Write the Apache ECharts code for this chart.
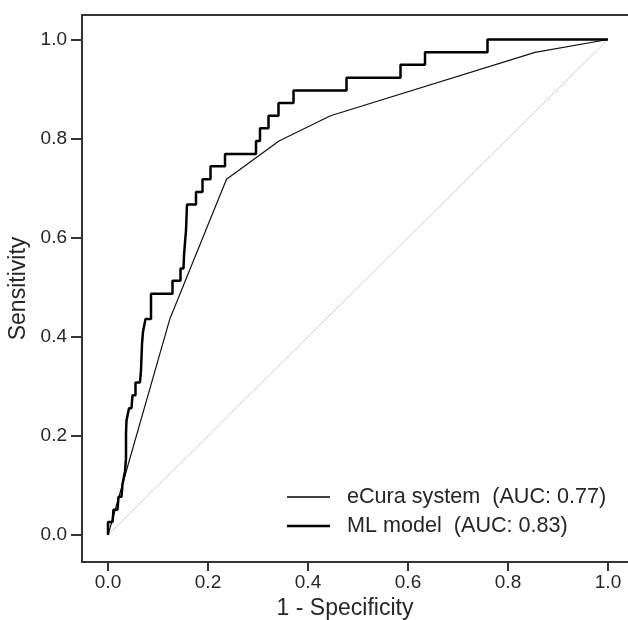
<!DOCTYPE html>
<html>
<head>
<meta charset="utf-8">
<script src="https://cdn.jsdelivr.net/npm/echarts@6/dist/echarts.min.js"></script>
<style>html,body{margin:0;padding:0;background:#fff}#c{width:628px;height:620px}</style>
</head>
<body>
<div id="c"></div>
<script>
// Tick labels
const xTicks = [0, 0.2, 0.4, 0.6, 0.8, 1.0];
const yTicks = [0, 0.2, 0.4, 0.6, 0.8, 1.0];

// Reference diagonal
const diagonal = [[0, 0], [1, 1]];

// eCura system ROC points [1 - specificity, sensitivity]
const eCuraFpr = [0, 0.124, 0.237, 0.342, 0.445, 0.854, 1.0];
const eCuraTpr = [0, 0.437, 0.718, 0.795, 0.846, 0.974, 1.0];

// ML model ROC (step) points [1 - specificity, sensitivity]
const mlFpr = [0, 0, 0.009, 0.011, 0.019, 0.021, 0.027, 0.029, 0.033, 0.034, 0.036, 0.036, 0.036, 0.036, 0.037,
  0.041, 0.042, 0.047, 0.049, 0.055, 0.055, 0.064, 0.066, 0.067, 0.068, 0.070, 0.075, 0.086, 0.086, 0.086,
  0.129, 0.129, 0.145, 0.145, 0.151, 0.152, 0.154, 0.156, 0.157, 0.158, 0.176, 0.176, 0.189, 0.189, 0.205,
  0.205, 0.234, 0.234, 0.296, 0.296, 0.304, 0.304, 0.321, 0.321, 0.341, 0.341, 0.371, 0.371, 0.477, 0.477,
  0.585, 0.585, 0.634, 0.634, 0.759, 0.759, 1.0];
const mlTpr = [0, 0.026, 0.026, 0.051, 0.051, 0.077, 0.077, 0.103, 0.103, 0.128, 0.128, 0.154, 0.179, 0.205, 0.231,
  0.231, 0.256, 0.256, 0.282, 0.282, 0.308, 0.308, 0.333, 0.359, 0.385, 0.410, 0.436, 0.436, 0.462, 0.487,
  0.487, 0.513, 0.513, 0.538, 0.538, 0.564, 0.590, 0.615, 0.641, 0.667, 0.667, 0.692, 0.692, 0.718, 0.718,
  0.744, 0.744, 0.769, 0.769, 0.795, 0.795, 0.821, 0.821, 0.846, 0.846, 0.872, 0.872, 0.897, 0.897, 0.923,
  0.923, 0.949, 0.949, 0.974, 0.974, 1.0, 1.0];

const seriesNames = ['eCura system  (AUC: 0.77)', 'ML model  (AUC: 0.83)'];

const zip = (a, b) => a.map((v, i) => [v, b[i]]);
const FONT = 'Liberation Sans, Arial, sans-serif';
const TXT = '#262626';
const AX = '#333';

const chart = echarts.init(document.getElementById('c'), null, {renderer: 'canvas'});
chart.setOption({
  animation: false,
  backgroundColor: '#fff',
  grid: {left: 82, right: 0, top: 15, bottom: 58, containLabel: false, outerBoundsMode: 'none'},
  xAxis: [{
    type: 'value', min: -0.052, max: 1.04,
    name: '1 - Specificity', nameLocation: 'middle', nameGap: 31,
    nameTextStyle: {fontFamily: FONT, fontSize: 23, color: TXT, padding: [0, 20, 0, 0]},
    axisLine: {show: true, onZero: false, lineStyle: {color: AX, width: 2}},
    axisTick: {show: true, length: 9, customValues: xTicks, lineStyle: {color: AX, width: 2}},
    axisLabel: {customValues: xTicks, formatter: v => v.toFixed(1), fontFamily: FONT, fontSize: 19, color: TXT, margin: 11},
    splitLine: {show: false}
  }, {
    type: 'value', position: 'top', min: -0.052, max: 1.04,
    axisLine: {show: true, onZero: false, lineStyle: {color: AX, width: 2}},
    axisTick: {show: false}, axisLabel: {show: false}, splitLine: {show: false}
  }],
  yAxis: {
    type: 'value', min: -0.0545, max: 1.0494,
    name: 'Sensitivity', nameLocation: 'middle', nameGap: 45,
    nameTextStyle: {fontFamily: FONT, fontSize: 23, color: TXT},
    axisLine: {show: true, onZero: false, lineStyle: {color: AX, width: 2}},
    axisTick: {show: true, length: 11, customValues: yTicks, lineStyle: {color: AX, width: 2}},
    axisLabel: {customValues: yTicks, formatter: v => v.toFixed(1), fontFamily: FONT, fontSize: 19, color: TXT, margin: 15},
    splitLine: {show: false}
  },
  legend: {
    orient: 'vertical', left: 287, top: 486, padding: 0,
    itemWidth: 43, itemHeight: 14, itemGap: 7,
    data: [
      {name: seriesNames[0], icon: 'path://M0,0L43,0L43,1.4L0,1.4Z', itemStyle: {color: '#000'}},
      {name: seriesNames[1], icon: 'path://M0,0L43,0L43,2.5L0,2.5Z', itemStyle: {color: '#000'}}
    ],
    textStyle: {fontFamily: FONT, fontSize: 21.6, color: TXT, padding: [0, 0, 0, 12], lineHeight: 22},
    selectedMode: false
  },
  series: [{
    name: 'diag', type: 'line', data: diagonal, symbol: 'none', silent: true,
    lineStyle: {color: '#cfcfcf', width: 1}
  }, {
    name: seriesNames[0], type: 'line', data: zip(eCuraFpr, eCuraTpr), symbol: 'none',
    itemStyle: {color: '#111'}, lineStyle: {color: '#111', width: 1.2}
  }, {
    name: seriesNames[1], type: 'line', data: zip(mlFpr, mlTpr), symbol: 'none',
    itemStyle: {color: '#000'}, lineStyle: {color: '#000', width: 2.5}
  }]
});
</script>
</body>
</html>
